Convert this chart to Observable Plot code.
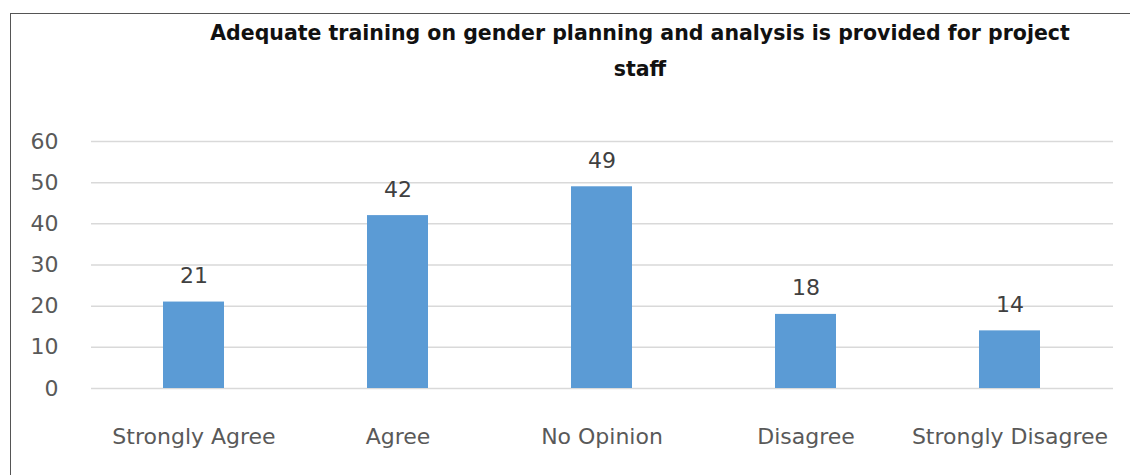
<!DOCTYPE html>
<html>
<head>
<meta charset="utf-8">
<script src="https://cdn.jsdelivr.net/npm/d3@7"></script>
<script src="https://cdn.jsdelivr.net/npm/@observablehq/plot@0.6"></script>
<style>
  html, body { margin: 0; padding: 0; background: #fff; }
  #frame { position: absolute; left: 10px; top: 13px; width: 1200px; height: 600px;
           border-left: 1.5px solid #555; border-top: 1.5px solid #555; box-sizing: border-box; }
  #wrap { position: absolute; left: 0; top: 0; width: 1130px; height: 475px; overflow: hidden; }
  #title { position: absolute; left: 0; top: 0; width: 1130px; height: 100px;
           font-family: "DejaVu Sans", sans-serif; font-weight: bold; font-size: 20.5px; color: #111; }
  #title div { position: absolute; left: 0; width: 1280px; text-align: center; white-space: nowrap; }
  #chart { position: absolute; left: 0; top: 100px; }
</style>
</head>
<body>
<div id="wrap">
  <div id="frame"></div>
  <div id="title">
    <div style="top:21px">Adequate training on gender planning and analysis is provided for project</div>
    <div style="top:57px">staff</div>
  </div>
  <div id="chart"></div>
</div>
<script>
const categories = ["Strongly Agree", "Agree", "No Opinion", "Disagree", "Strongly Disagree"];
const values = [21, 42, 49, 18, 14];
const yTicks = [0, 10, 20, 30, 40, 50, 60];

const data = categories.map((c, i) => ({category: c, value: values[i]}));

const plot = Plot.plot({
  width: 1130,
  height: 375,
  marginLeft: 91,
  marginRight: 17,
  marginTop: 41,
  marginBottom: 87,
  style: {fontFamily: "'DejaVu Sans', sans-serif", background: "transparent"},
  x: {domain: categories, paddingInner: 0.7, paddingOuter: 0.35, label: null},
  y: {domain: [0, 60], ticks: yTicks, label: null},
  marks: [
    Plot.ruleY(yTicks, {stroke: "#d9d9d9", strokeWidth: 1.5}),
    Plot.barY(data, {x: "category", y: "value", fill: "#5B9BD5"}),
    Plot.text(data, {x: "category", y: "value", text: d => String(d.value), dy: -26,
      fontSize: 22, fill: "#404040"}),
    Plot.axisY({ticks: yTicks, tickSize: 0, tickPadding: 33, fontSize: 22, fill: "#595959", label: null}),
    Plot.axisX({tickSize: 0, tickPadding: 40, fontSize: 22, fill: "#595959", label: null})
  ]
});
document.getElementById("chart").appendChild(plot);
</script>
</body>
</html>
